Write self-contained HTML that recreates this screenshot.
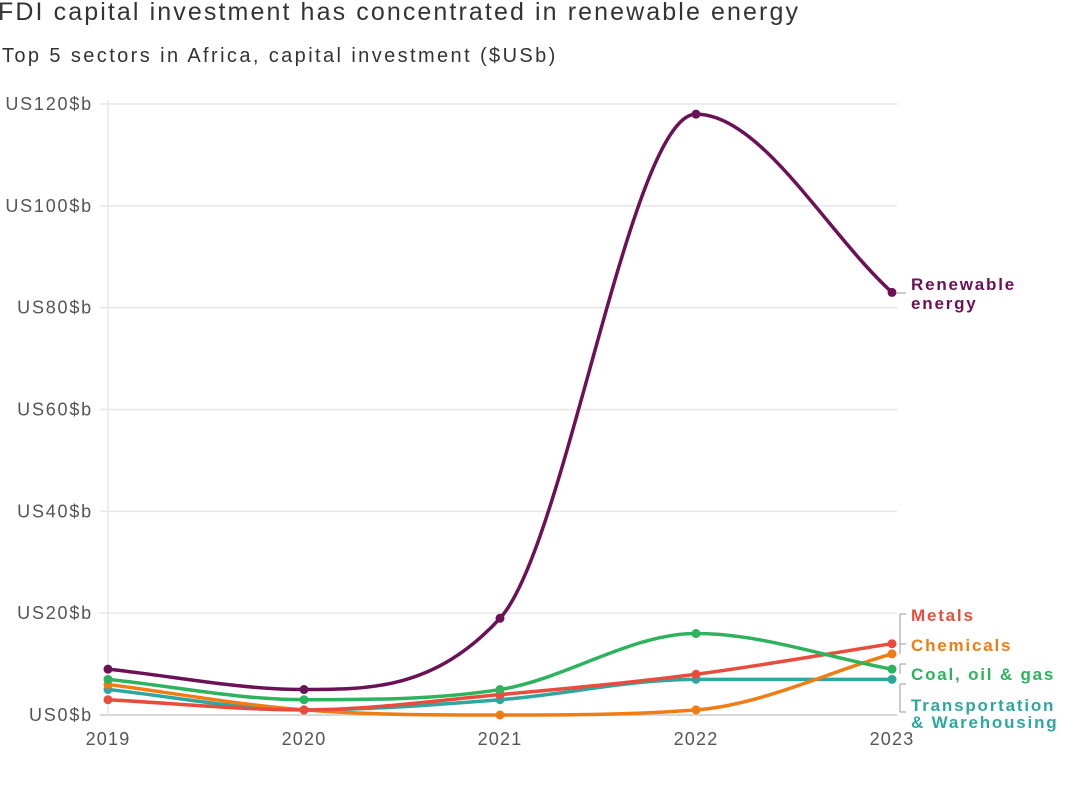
<!DOCTYPE html>
<html><head><meta charset="utf-8">
<style>
body{margin:0;background:#fff;width:1067px;height:804px;overflow:hidden;font-family:"Liberation Sans",sans-serif;}
svg{display:block}
</style></head>
<body>
<svg id="chart" width="1067" height="804" xmlns="http://www.w3.org/2000/svg">
<text x="-2" y="20" font-size="25" letter-spacing="2.1" fill="#333">FDI capital investment has concentrated in renewable energy</text>
<text x="2" y="62" font-size="20" letter-spacing="2.4" fill="#333">Top 5 sectors in Africa, capital investment ($USb)</text>
<g id="grid"></g><g id="series"></g><g id="labels"></g>
</svg>
<script>
const years=[2019,2020,2021,2022,2023];
const yTicks=[0,20,40,60,80,100,120];
const renewable=[9,5,19,118,83];
const metals=[3,1,4,8,14];
const chemicals=[6,1,0,1,12];
const coal=[7,3,5,16,9];
const transport=[5,1,3,7,7];
const seriesList=[
 {name:'transport',vals:transport,color:'#2ea79f'},
 {name:'chemicals',vals:chemicals,color:'#f07c14'},
 {name:'metals',vals:metals,color:'#e84c3d'},
 {name:'coal',vals:coal,color:'#2db35d'},
 {name:'renewable',vals:renewable,color:'#6b1156'}];
const NS='http://www.w3.org/2000/svg';
const x=v=>108+(v-2019)*196;
const y=v=>715-v*(611/120);
function mk(t,a,p){const e=document.createElementNS(NS,t);for(const k in a)e.setAttribute(k,a[k]);p.appendChild(e);return e;}
const grid=document.getElementById('grid');
yTicks.forEach(t=>{
 const l=mk('line',{x1:100,x2:897,y1:y(t),y2:y(t),stroke:t===0?'#ccc':'#e6e6e6','stroke-width':1.5},grid);
 
 
 const tx=mk('text',{x:93,y:y(t)+6,'text-anchor':'end','font-size':18,'letter-spacing':1.8,fill:'#555'},grid);
 tx.textContent='US'+t+'$b';
 
 
});
mk('line',{x1:108,x2:108,y1:100,y2:715,stroke:'#e6e6e6','stroke-width':1.5},grid);
years.forEach(yr=>{
 const tx=mk('text',{x:x(yr),y:745,'text-anchor':'middle','font-size':18,'letter-spacing':1.2,fill:'#555'},grid);
 tx.textContent=yr;
 
 
});
function monotone(px,py){
 const n=px.length,d=[],m=[];
 for(let i=0;i<n-1;i++)d.push((py[i+1]-py[i])/(px[i+1]-px[i]));
 m[0]=d[0];m[n-1]=d[n-2];
 for(let i=1;i<n-1;i++){m[i]=(d[i-1]*d[i]<=0)?0:(d[i-1]+d[i])/2;}
 for(let i=0;i<n-1;i++){if(d[i]===0){m[i]=0;m[i+1]=0;continue;}
  const a=m[i]/d[i],b=m[i+1]/d[i],s=a*a+b*b;if(s>9){const t=3/Math.sqrt(s);m[i]=t*a*d[i];m[i+1]=t*b*d[i];}}
 let p='M'+px[0]+','+py[0];
 for(let i=0;i<n-1;i++){const h=(px[i+1]-px[i])/3;
  p+=' C'+(px[i]+h)+','+(py[i]+m[i]*h)+' '+(px[i+1]-h)+','+(py[i+1]-m[i+1]*h)+' '+px[i+1]+','+py[i+1];}
 return p;
}
const sg=document.getElementById('series');
seriesList.forEach(s=>{
 const px=years.map(x),py=s.vals.map(y);
 const p=mk('path',{d:monotone(px,py),fill:'none',stroke:s.color,'stroke-width':3.5},sg);
 
 
 s.vals.forEach((v,i)=>{
  const c=mk('circle',{cx:x(years[i]),cy:y(v),r:4.5,fill:s.color},sg);
  
  
 });
});
const lg=document.getElementById('labels');
const labs=[['Renewable','#6b1156',290],['energy','#6b1156',309],['Metals','#e84c3d',621],['Chemicals','#f07c14',651],['Coal, oil & gas','#2db35d',680],['Transportation','#2ea79f',711],['& Warehousing','#2ea79f',728]];
labs.forEach(l=>{
 const t=mk('text',{x:911,y:l[2],'font-size':17,'font-weight':'bold','letter-spacing':1.8,fill:l[1]},lg);
 t.textContent=l[0];
 
 
});
[[896,293,906,293],[900,614,906,614],[900,614,900,644],[900,644,906,644],[900,654,900,644],[900,664,906,664],[900,664,900,674],[900,684,906,684],[900,684,900,712],[900,712,906,712]].forEach(a=>{
 mk('line',{x1:a[0],y1:a[1],x2:a[2],y2:a[3],stroke:'#aaa','stroke-width':1.2},lg);
});
</script>
</body></html>
